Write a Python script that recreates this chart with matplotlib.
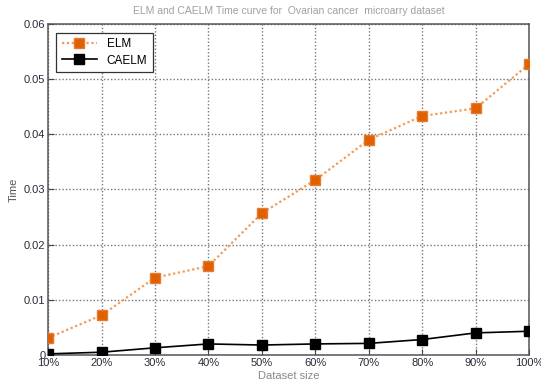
import numpy as np
import matplotlib
matplotlib.use('Agg')
from matplotlib import pyplot as plt

plt.rcParams['font.family'] = ['Liberation Sans', 'DejaVu Sans']
plt.rcParams['font.size'] = 8

sizes = ['10%', '20%', '30%', '40%', '50%', '60%', '70%', '80%', '90%', '100%']
elm_time = [0.0031, 0.0072, 0.0140, 0.0161, 0.0257, 0.0317, 0.0390, 0.0433, 0.0447, 0.0527]
caelm_time = [0.0002, 0.0005, 0.0013, 0.0020, 0.0018, 0.0020, 0.0021, 0.0028, 0.0040, 0.0043]
y_ticks = [0, 0.01, 0.02, 0.03, 0.04, 0.05, 0.06]
y_labels = ['0', '0.01', '0.02', '0.03', '0.04', '0.05', '0.06']

fig = plt.figure(figsize=(5.41, 3.85), dpi=100)
ax = fig.add_axes([0.089, 0.078, 0.889, 0.86])

x = np.arange(len(sizes))
ax.plot(x, elm_time, linestyle=(0, (1, 1.2)), color='#f39a55', linewidth=1.6,
        marker='s', markersize=6.5, markerfacecolor='#e06000', markeredgecolor='#e87a30',
        label='ELM', zorder=3)
ax.plot(x, caelm_time, linestyle='-', color='black', linewidth=1.2,
        marker='s', markersize=6.5, markerfacecolor='black', markeredgecolor='black',
        label='CAELM', zorder=3)

ax.set_xlim(0, len(sizes) - 1)
ax.set_ylim(0, 0.06)
ax.set_xticks(x)
ax.set_xticklabels(sizes, color='#2a2a3a')
ax.set_yticks(y_ticks)
ax.set_yticklabels(y_labels, color='#2a2a3a')
ax.tick_params(direction='in', length=4, pad=2, color='#444444')
ax.grid(True, linestyle=(0, (1, 1.5)), color='#777777', linewidth=1.0)
for s in ax.spines.values():
    s.set_color('#555555')
    s.set_linewidth(1.1)

ax.set_title('ELM and CAELM Time curve for  Ovarian cancer  microarry dataset',
             color='#a0a0a0', fontsize=7.5, pad=7)
ax.set_xlabel('Dataset size', color='#888888', labelpad=2)
ax.set_ylabel('Time', color='#555555', labelpad=4)

leg = ax.legend(loc='upper left', bbox_to_anchor=(0.005, 0.99), fancybox=False,
                edgecolor='#333333', framealpha=1, handlelength=3.0, borderpad=0.45,
                labelspacing=0.35, fontsize=8.5)
leg.get_frame().set_linewidth(0.9)

fig.savefig('out.png', dpi=100)
